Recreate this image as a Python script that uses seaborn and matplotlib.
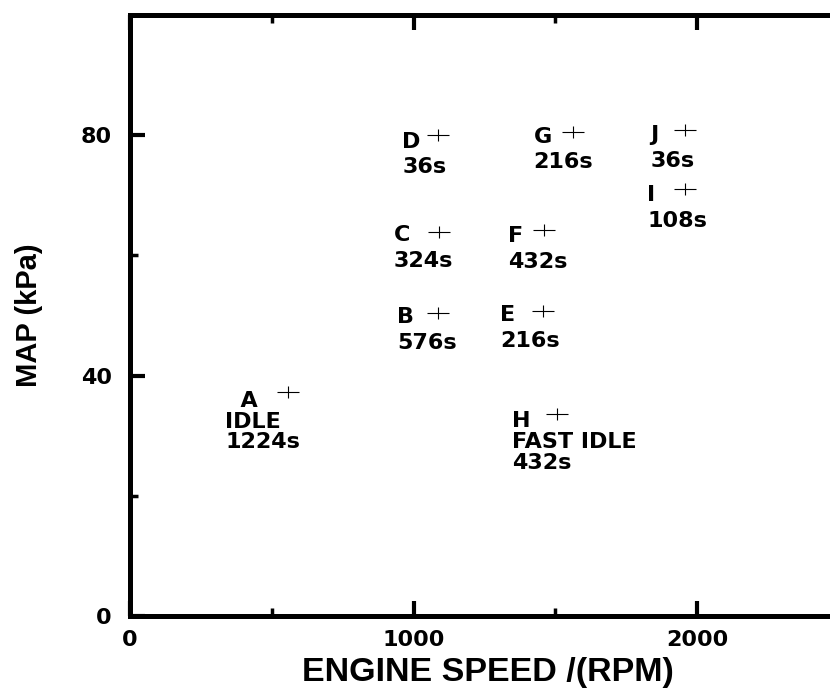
import matplotlib
matplotlib.use("Agg")
import matplotlib.pyplot as plt
from matplotlib.path import Path
from matplotlib.ticker import FixedLocator
import pandas as pd
import seaborn as sns

# Steady-state test points of the drive cycle
points = ["A", "B", "C", "D", "E", "F", "G", "H", "I", "J"]
engine_speed_rpm = [558, 1087, 1090, 1087, 1458, 1460, 1564, 1505, 1958, 1958]
map_kpa = [37.3, 50.4, 63.9, 80.1, 50.7, 64.2, 80.6, 33.6, 71.0, 80.8]
mode = ["IDLE", "", "", "", "", "", "", "FAST IDLE", "", ""]
duration_s = [1224, 576, 324, 36, 216, 432, 216, 432, 108, 36]

x_major = [0, 1000, 2000]
x_minor = [500, 1500]
y_major = [0, 40, 80]
y_minor = [20, 60]

df = pd.DataFrame({"point": points, "rpm": engine_speed_rpm, "map": map_kpa,
                   "mode": mode, "dur": duration_s})

# label placement: offset (pixels) of the text block's top-left from the point
label_offset = {
    "A": (-63, 1), "B": (-41, 6), "C": (-45, 7), "D": (-36, 3),
    "E": (-43, 6), "F": (-36, 4), "G": (-40, 5), "H": (-45, 3),
    "I": (-38, 4), "J": (-35, 5),
}

sns.set_theme(style="ticks")
plt.rcParams["font.family"] = ["DejaVu Sans"]
plt.rcParams["font.weight"] = "bold"
for key in ["text.color", "axes.labelcolor", "xtick.color", "ytick.color",
            "axes.edgecolor"]:
    plt.rcParams[key] = "black"

W, H = 830, 692
fig = plt.figure(figsize=(W / 100, H / 100), dpi=100)
fig.patch.set_facecolor("white")
left, right, bottom, top = 130, 845, 616, 15
ax = fig.add_axes([left / W, 1 - bottom / H, (right - left) / W, (bottom - top) / H])
ax.set_facecolor("white")

# thin asymmetric cross marker
cross = Path([(-1, 0), (1, 0), (0, -0.55), (0, 0.55)],
             [Path.MOVETO, Path.LINETO, Path.MOVETO, Path.LINETO])

sns.scatterplot(data=df, x="rpm", y="map", marker=cross, s=240, color="black",
                edgecolor="black", linewidth=0.8, legend=False, ax=ax, zorder=3)

for _, r in df.iterrows():
    lines = [r["point"] if r["point"] != "A" else "  A"]
    if r["mode"]:
        lines.append(r["mode"])
    lines.append(f"{r['dur']}s")
    dx, dy = label_offset[r["point"]]
    ax.annotate("\n".join(lines), xy=(r["rpm"], r["map"]), xytext=(dx, dy),
                textcoords="offset pixels", ha="left", va="top",
                fontsize=16, fontweight="bold", color="black",
                linespacing=1.05 if len(lines) == 3 else 1.35)

ax.set_xlim(0, 2522)
ax.set_ylim(0, 100)
ax.xaxis.set_major_locator(FixedLocator(x_major))
ax.xaxis.set_minor_locator(FixedLocator(x_minor))
ax.yaxis.set_major_locator(FixedLocator(y_major))
ax.yaxis.set_minor_locator(FixedLocator(y_minor))

for s in ax.spines.values():
    s.set_linewidth(3.6)
    s.set_color("black")
    s.set_visible(True)

ax.tick_params(which="both", direction="in", top=True, right=True, color="black")
ax.tick_params(which="major", length=11, width=3, pad=13, labelsize=16,
               labelcolor="black")
ax.tick_params(axis="x", which="major", pad=10)
ax.tick_params(which="minor", length=6, width=2.5)
for lab in ax.get_xticklabels() + ax.get_yticklabels():
    lab.set_fontweight("bold")

ax.set_xlabel("ENGINE SPEED /(RPM)", fontsize=24.5, fontweight="bold", color="black",
              family=["Liberation Sans", "DejaVu Sans"])
ax.xaxis.set_label_coords(0.5, -0.0675)
ax.set_ylabel("MAP (kPa)", fontsize=21, fontweight="bold", color="black",
              family=["Liberation Sans", "DejaVu Sans"])
ax.yaxis.set_label_coords(-0.122, 0.5)

fig.savefig("out.png", dpi=100)
